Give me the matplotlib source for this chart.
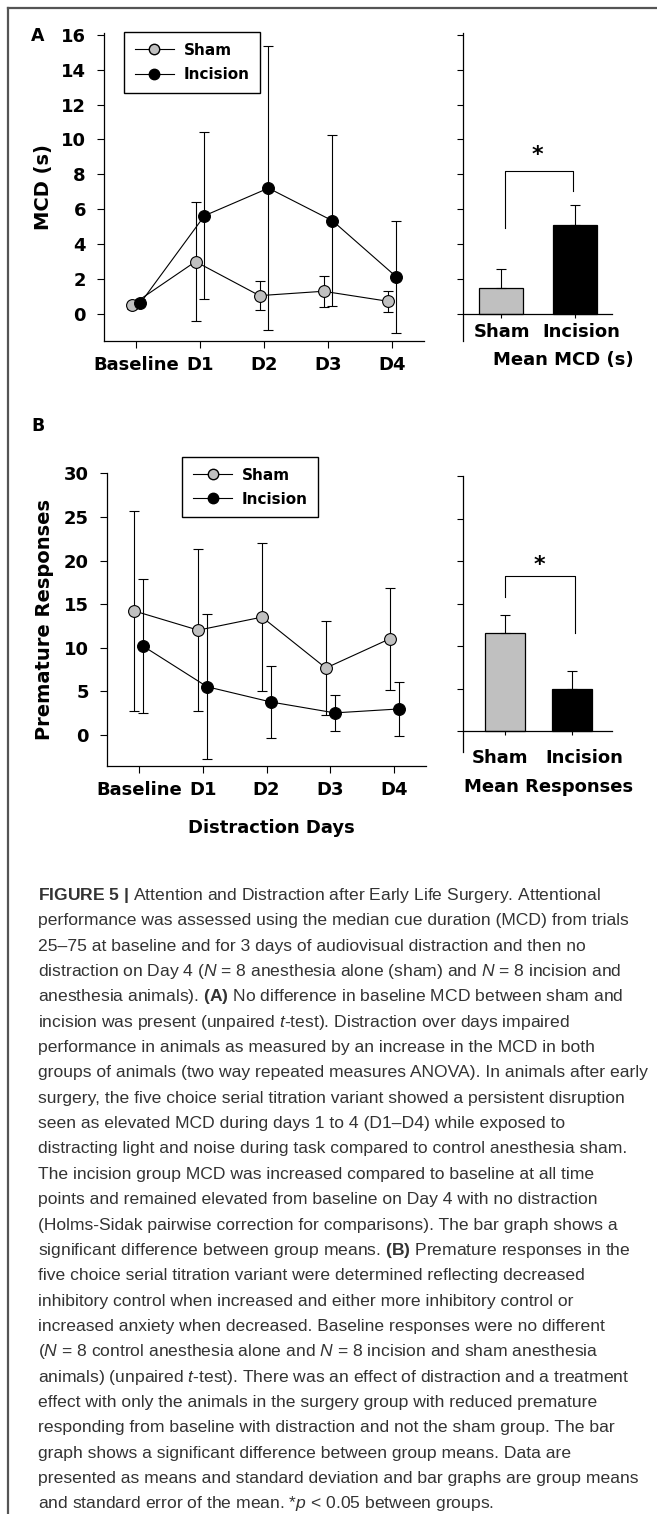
import numpy as np
import matplotlib
matplotlib.use('Agg')
import matplotlib.pyplot as plt
from matplotlib.lines import Line2D

plt.rcParams['mathtext.fontset'] = 'custom'
plt.rcParams['mathtext.rm'] = 'Liberation Sans'
plt.rcParams['mathtext.it'] = 'Liberation Sans:italic'
plt.rcParams['mathtext.bf'] = 'Liberation Sans:bold'

# data
days = ['Baseline', 'D1', 'D2', 'D3', 'D4']
groups = ['Sham', 'Incision']

mcd_sham = [0.5, 3.0, 1.05, 1.3, 0.73]
mcd_sham_sd = [0.2, 3.4, 0.85, 0.9, 0.6]
mcd_inc = [0.63, 5.63, 7.21, 5.34, 2.12]
mcd_inc_sd = [0.2, 4.8, 8.15, 4.9, 3.2]
mcd_mean = [1.5, 5.08]
mcd_sem = [1.1, 1.14]

pr_sham = [14.2, 12.0, 13.5, 7.65, 11.0]
pr_sham_sd = [11.5, 9.3, 8.5, 5.4, 5.85]
pr_inc = [10.15, 5.5, 3.75, 2.5, 2.95]
pr_inc_sd = [7.7, 8.35, 4.1, 2.05, 3.15]
pr_mean = [11.55, 4.97]
pr_sem = [2.15, 2.07]

caption_lines = [
    r"$\mathbf{FIGURE\ 5\ |}$ Attention and Distraction after Early Life Surgery. Attentional",
    "performance was assessed using the median cue duration (MCD) from trials",
    "25–75 at baseline and for 3 days of audiovisual distraction and then no",
    r"distraction on Day 4 ($N$ = 8 anesthesia alone (sham) and $N$ = 8 incision and",
    r"anesthesia animals). $\mathbf{(A)}$ No difference in baseline MCD between sham and",
    r"incision was present (unpaired $t$-test). Distraction over days impaired",
    "performance in animals as measured by an increase in the MCD in both",
    "groups of animals (two way repeated measures ANOVA). In animals after early",
    "surgery, the five choice serial titration variant showed a persistent disruption",
    "seen as elevated MCD during days 1 to 4 (D1–D4) while exposed to",
    "distracting light and noise during task compared to control anesthesia sham.",
    "The incision group MCD was increased compared to baseline at all time",
    "points and remained elevated from baseline on Day 4 with no distraction",
    "(Holms-Sidak pairwise correction for comparisons). The bar graph shows a",
    r"significant difference between group means. $\mathbf{(B)}$ Premature responses in the",
    "five choice serial titration variant were determined reflecting decreased",
    "inhibitory control when increased and either more inhibitory control or",
    "increased anxiety when decreased. Baseline responses were no different",
    r"($N$ = 8 control anesthesia alone and $N$ = 8 incision and sham anesthesia",
    r"animals) (unpaired $t$-test). There was an effect of distraction and a treatment",
    "effect with only the animals in the surgery group with reduced premature",
    "responding from baseline with distraction and not the sham group. The bar",
    "graph shows a significant difference between group means. Data are",
    "presented as means and standard deviation and bar graphs are group means",
    "and standard error of the mean. *$p$ < 0.05 between groups.",
]

W, H = 657, 1514
GRAY = '#c0c0c0'


def box(x0, y0, x1, y1):
    return [x0 / W, 1 - y1 / H, (x1 - x0) / W, (y1 - y0) / H]


def ftext(x, y, s, **kw):
    return fig.text(x / W, 1 - y / H, s, **kw)


def line_panel(ax, sham, sham_sd, inc, inc_sd, ylim, yticks, legend_xy):
    x = np.arange(len(days))
    kw = dict(fmt='-o', color='black', mec='black', ms=8.5, lw=0.8,
              elinewidth=0.8, capsize=3.5, capthick=0.8, mew=0.8)
    ax.errorbar(x - 0.07, sham, yerr=sham_sd, mfc=GRAY, **kw)
    ax.errorbar(x + 0.07, inc, yerr=inc_sd, mfc='black', **kw)
    ax.set_xlim(-0.5, 4.5)
    ax.set_ylim(*ylim)
    ax.set_xticks(x, days, fontweight='bold', fontsize=13)
    ax.set_yticks(yticks, [str(v) for v in yticks], fontweight='bold', fontsize=13)
    ax.tick_params(direction='out', length=5, width=0.8)
    ax.tick_params(axis='x', pad=6)
    ax.tick_params(axis='y', pad=8)
    for s in ['top', 'right']:
        ax.spines[s].set_visible(False)
    for s in ['left', 'bottom']:
        ax.spines[s].set_linewidth(0.9)
    handles = [Line2D([], [], color='black', lw=0.8, marker='o', ms=7.5, mfc=GRAY, mec='black'),
               Line2D([], [], color='black', lw=0.8, marker='o', ms=7.5, mfc='black', mec='black')]
    leg = ax.legend(handles, groups, loc='upper left', bbox_to_anchor=legend_xy,
                    borderaxespad=0, fancybox=False, framealpha=1, edgecolor='black',
                    prop={'weight': 'bold', 'size': 11}, handlelength=2.6,
                    handletextpad=0.6, labelspacing=0.6, borderpad=0.7)
    leg.get_frame().set_linewidth(1.0)


def bar_panel(ax, means, sems, ylim, yticks, xlim):
    ax.spines['bottom'].set_position(('data', 0))
    for s in ['top', 'right']:
        ax.spines[s].set_visible(False)
    for s in ['left', 'bottom']:
        ax.spines[s].set_linewidth(0.9)
    ax.bar([0, 1], means, width=0.6, color=[GRAY, 'black'], edgecolor='black', lw=0.9)
    ax.errorbar([0, 1], means, yerr=[[0, 0], sems], fmt='none', ecolor='black',
                elinewidth=0.8, capsize=3.5, capthick=0.8)
    ax.set_xlim(*xlim)
    ax.set_ylim(*ylim)
    ax.set_yticks(yticks)
    ax.set_yticklabels([])
    ax.set_xticks([0, 1])
    ax.set_xticklabels([])
    ax.tick_params(direction='out', width=0.8)
    ax.tick_params(axis='y', length=4)
    ax.tick_params(axis='x', length=3)


fig = plt.figure(figsize=(W / 100, H / 100), dpi=100)

# panel A
axA = fig.add_axes(box(104, 33, 424, 341))
line_panel(axA, mcd_sham, mcd_sham_sd, mcd_inc, mcd_inc_sd, (-1.55, 16.1),
           list(range(0, 17, 2)), (0.062, 1.003))
axA2 = fig.add_axes(box(463, 33, 612, 341))
bar_panel(axA2, mcd_mean, mcd_sem, (-1.55, 16.1), list(range(0, 17, 2)), (-0.51, 1.5))
axA2.plot([0.05, 0.05, 0.97, 0.97], [4.92, 8.2, 8.2, 7.03], color='black', lw=0.8)
axA2.text(0.49, 9.1, '*', ha='center', va='center', fontsize=16, fontweight='bold')

# panel B
axB = fig.add_axes(box(107, 473, 426, 766))
line_panel(axB, pr_sham, pr_sham_sd, pr_inc, pr_inc_sd, (-3.6, 30.05),
           list(range(0, 31, 5)), (0.235, 1.055))
axB2 = fig.add_axes(box(463, 476, 612, 752))
bar_panel(axB2, pr_mean, pr_sem, (-2.42, 30), list(range(0, 31, 5)), (-0.63, 1.6))
axB2.plot([0.0, 0.0, 1.04, 1.04], [15.76, 18.3, 18.3, 11.5], color='black', lw=0.8)
axB2.text(0.52, 19.6, '*', ha='center', va='center', fontsize=16, fontweight='bold')

# labels
bold = dict(ha='center', va='center', fontweight='bold')
ftext(38, 36, 'A', fontsize=12.5, **bold)
ftext(38, 426, 'B', fontsize=12.5, **bold)
ftext(43, 187, 'MCD (s)', rotation=90, fontsize=14, **bold)
ftext(45, 619, 'Premature Responses', rotation=90, fontsize=14, **bold)
for gx, g in zip([502, 581], groups):
    ftext(gx, 332, g, fontsize=13, **bold)
for gx, g in zip([500, 584], groups):
    ftext(gx, 758, g, fontsize=13, **bold)
ftext(563, 360, 'Mean MCD (s)', fontsize=13, **bold)
ftext(549, 787, 'Mean Responses', fontsize=13, **bold)
ftext(271, 828, 'Distraction Days', fontsize=13, **bold)

# caption
for i, line in enumerate(caption_lines):
    ftext(38, 900 + i * 25.35, line, ha='left', va='baseline', fontsize=12.6,
          family='Liberation Sans', color='#333333')

# frame
fig.add_artist(Line2D([8 / W, 1], [1 - 8 / H, 1 - 8 / H], transform=fig.transFigure,
                      color='#555555', lw=1.6))
fig.add_artist(Line2D([8 / W, 8 / W], [0, 1 - 8 / H], transform=fig.transFigure,
                      color='#555555', lw=1.6))

fig.savefig('out.png', dpi=100)
